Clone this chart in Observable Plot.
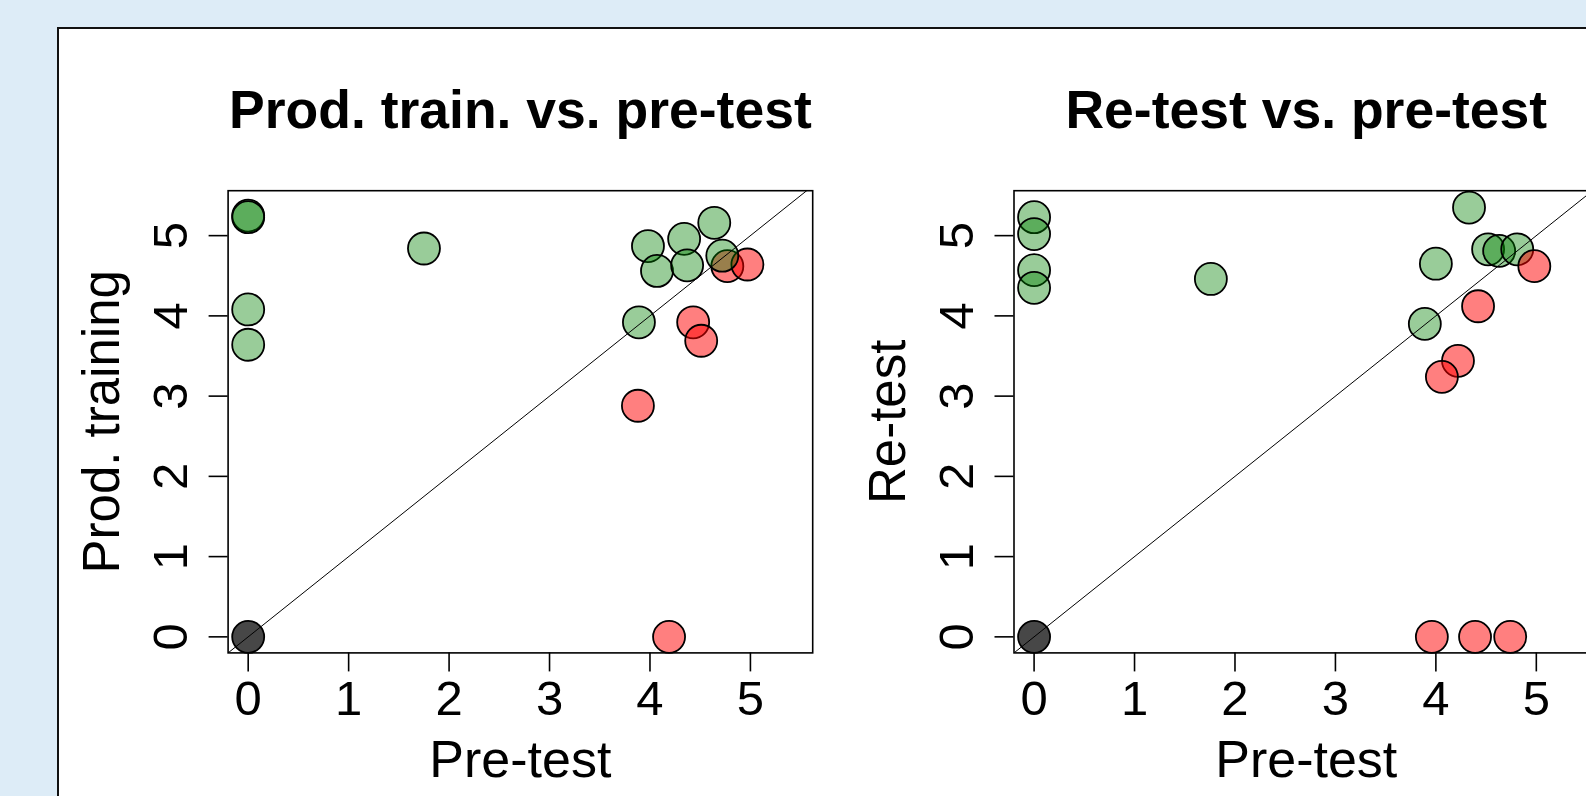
<!DOCTYPE html>
<html><head><meta charset="utf-8">
<script src="https://cdn.jsdelivr.net/npm/d3@7"></script>
<script src="https://cdn.jsdelivr.net/npm/@observablehq/plot@0.6"></script>
<style>
html,body{margin:0;padding:0;width:1586px;height:796px;overflow:hidden;background:#ddecf7;position:relative;}
#panel{position:absolute;left:57px;top:27px;width:1700px;height:900px;background:#fff;border-left:2px solid #111;border-top:2px solid #111;}
.chart{position:absolute;top:30px;}
.chart svg{background:transparent !important;max-width:none !important;}
</style></head><body>
<div id="panel"></div>
<div id="c1" class="chart" style="left:60px"></div>
<div id="c2" class="chart" style="left:850px"></div>
<script>
// ---- data ----
const xTicks = [0, 1, 2, 3, 4, 5];
const yTicks = [0, 1, 2, 3, 4, 5];
const xDomain = [-0.2, 5.62];
const yDomain = [-0.2, 5.56];

const titles = ["Prod. train. vs. pre-test", "Re-test vs. pre-test"];
const xLabels = ["Pre-test", "Pre-test"];
const yLabels = ["Prod. training", "Re-test"];

// Panel 1: pre-test vs production training
const p1Pre   = [0,    4.77, 4.97, 4.43, 4.51, 3.88, 4.19, 0,    0,    0,    0,    1.75, 3.98, 4.07, 4.34, 4.37, 4.64, 4.72, 3.89];
const p1Score = [0,    4.62, 4.64, 3.92, 3.69, 2.88, 0,    5.25, 5.23, 4.08, 3.64, 4.84, 4.87, 4.56, 4.96, 4.63, 5.16, 4.75, 3.92];
const p1Group = ["same","down","down","down","down","down","down","up","up","up","up","up","up","up","up","up","up","up","up"];

// Panel 2: pre-test vs re-test
const p2Pre   = [0,    0,    0,    0,    0,    1.76, 4.33, 4.00, 4.52, 4.63, 4.81, 3.89, 4.98, 4.42, 4.22, 4.06, 3.96, 4.39, 4.74];
const p2Score = [0,    5.23, 5.02, 4.57, 4.35, 4.46, 5.35, 4.65, 4.83, 4.81, 4.83, 3.90, 4.62, 4.12, 3.44, 3.24, 0,    0,    0];
const p2Group = ["same","up","up","up","up","up","up","up","up","up","up","up","down","down","down","down","down","down","down"];

const groupFill = {up: "rgb(0,128,0)", down: "rgb(255,0,0)", same: "black"};
const groupOpacity = {up: 0.4, down: 0.5, same: 0.72};

function rows(pre, score, group) {
  return pre.map((p, i) => ({pre: p, score: score[i], group: group[i]}));
}

function panel(data, title, xLabel, yLabel, mLeft, mRight) {
  const diag = [xDomain[0], xDomain[1]];
  return Plot.plot({
    width: 780,
    height: 766,
    marginLeft: mLeft,
    marginRight: mRight,
    marginTop: 160.2,
    marginBottom: 143.6,
    style: {fontFamily: "'Liberation Sans', Arial, sans-serif", fontSize: "49px", color: "black", background: "transparent", overflow: "visible"},
    x: {domain: xDomain, label: null},
    y: {domain: yDomain, label: null},
    marks: [
      Plot.dot(data, {x: "pre", y: "score", r: 16,
        fill: d => groupFill[d.group], fillOpacity: d => groupOpacity[d.group],
        stroke: "black", strokeWidth: 1.8}),
      Plot.line(diag, {x: d => d, y: d => d, stroke: "black", strokeWidth: 1, clip: true}),
      Plot.frame({stroke: "black", strokeWidth: 1.6}),
      Plot.axisX({ticks: xTicks, tickSize: 19, tickPadding: 8, strokeWidth: 1.6, label: null, tickFormat: d3.format("d")}),
      Plot.axisY({ticks: yTicks, tickSize: 19, tickPadding: 22, tickRotate: -90, strokeWidth: 1.6, label: null, tickFormat: d3.format("d")}),
      Plot.text([title], {text: d => d, frameAnchor: "top", textAnchor: "middle", lineAnchor: "bottom", dy: -62.5,
        fontWeight: "bold", fontSize: 53.5, letterSpacing: "2.2px"}),
      Plot.text([xLabel], {text: d => d, frameAnchor: "bottom", textAnchor: "middle", lineAnchor: "bottom", dy: 124.3,
        fontSize: 52, letterSpacing: "2.3px"}),
      Plot.text([yLabel], {text: d => d, frameAnchor: "left", textAnchor: "middle", lineAnchor: "bottom", rotate: -90, dx: -109.3,
        fontSize: 51, letterSpacing: "1.6px"})
    ]
  });
}

document.getElementById("c1").append(
  panel(rows(p1Pre, p1Score, p1Group), titles[0], xLabels[0], yLabels[0], 167.6, 27.8));
document.getElementById("c2").append(
  panel(rows(p2Pre, p2Score, p2Group), titles[1], xLabels[1], yLabels[1], 163.5, 31.9));
</script>
</body></html>
